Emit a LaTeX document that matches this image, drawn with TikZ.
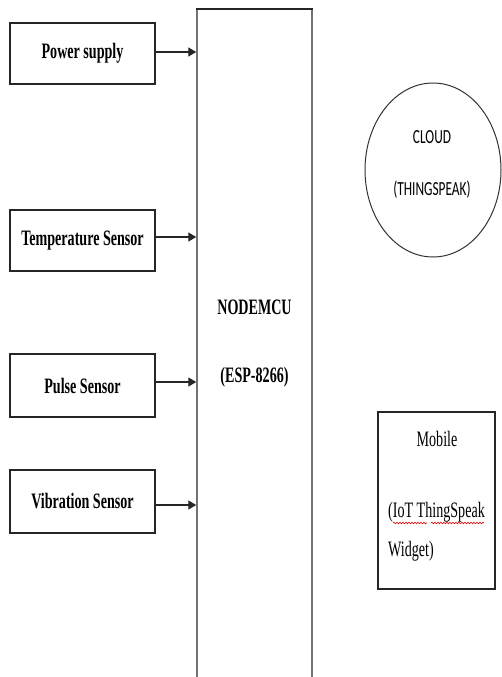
\documentclass[tikz,border=0pt]{standalone}
\usepackage{fontspec}
\setmainfont{Liberation Serif}
\newfontfamily\cloudfont{Carlito}
\usetikzlibrary{arrows.meta,decorations.pathmorphing,shapes.geometric}
\newcommand{\sq}[1]{\scalebox{0.64}[1]{#1}}
\newcommand{\sqc}[1]{\scalebox{0.667}[1]{#1}}
\begin{document}
\begin{tikzpicture}[x=1pt,y=-1pt,
  inbox/.style={draw=black!85, line width=1.2pt, minimum width=145pt, minimum height=61pt, inner sep=0pt, font=\fontsize{22}{24}\selectfont\bfseries},
  lbl/.style={inner sep=0pt, font=\fontsize{22}{24}\selectfont\bfseries},
  mlbl/.style={inner sep=0pt, font=\fontsize{22}{24}\selectfont},
  clbl/.style={inner sep=0pt, font=\fontsize{20}{24}\cloudfont},
  arr/.style={draw=black!85, line width=1.4pt, -{Triangle[length=8pt,width=9pt]}},
  wavy/.style={draw=red!90!black, line width=0.6pt, decorate, decoration={snake, amplitude=0.8pt, segment length=3pt}}]
\useasboundingbox (0,0) rectangle (502,677);
\fill[white] (0,0) rectangle (502,677);
% input boxes
\node[inbox] (ps) at (82.5,53.5) {\sq{Power supply}};
\node[inbox] (ts) at (82.5,240.5) {\sq{Temperature Sensor}};
\node[inbox, minimum height=63pt] (pl) at (82.5,385.5) {\sq{Pulse Sensor}};
\node[inbox, minimum height=63pt] (vb) at (82.5,501.5) {\sq{Vibration Sensor}};
% NodeMCU box running off the bottom
\begin{scope}
\clip (0,0) rectangle (502,677);
\node[draw=black!55, line width=1.5pt, minimum width=115pt, minimum height=720pt, anchor=north, inner sep=0pt] (mcu) at (254.5,9) {};
\draw[black!85, line width=1.5pt] (mcu.north west) -- (mcu.north east);
\end{scope}
\node[lbl] (n1) at (254.5,307) {\sq{NODEMCU}};
\node[lbl] (n2) at (254.5,377) {\sq{(ESP-8266)}};
% arrows
\coordinate (a1) at ([yshift=1.5pt]ps.east);
\coordinate (a2) at ([yshift=3.5pt]ts.east);
\coordinate (a3) at ([yshift=3.5pt]pl.east);
\coordinate (a4) at ([yshift=-3.5pt]vb.east);
\draw[arr] (a1) -- (a1 -| mcu.west);
\draw[arr] (a2) -- (a2 -| mcu.west);
\draw[arr] (a3) -- (a3 -| mcu.west);
\draw[arr] (a4) -- (a4 -| mcu.west);
% cloud
\node[draw=black!80, line width=1pt, ellipse, minimum width=136pt, minimum height=174pt, inner sep=0pt] (cloud) at (433,170) {};
\node[clbl] (c1) at (432,137) {\sqc{CLOUD}};
\node[clbl] (c2) at (432,190) {\sqc{(THINGSPEAK)}};
% mobile
\node[draw=black!85, line width=1.2pt, minimum width=117pt, minimum height=177pt, inner sep=0pt] (mob) at (436.5,500.5) {};
\node[mlbl] (m1) at (437,439) {\sq{Mobile}};
\node[mlbl, anchor=west] (m2) at (388,512) {\sq{(IoT ThingSpeak}};
\node[mlbl, anchor=west] (m3) at (388,551) {\sq{Widget)}};
\coordinate (w1) at (393,523);
\coordinate (w2) at (427,523);
\coordinate (w3) at (431,523);
\coordinate (w4) at (484,523);
\draw[wavy] (w1) -- (w2);
\draw[wavy] (w3) -- (w4);
\end{tikzpicture}
\end{document}
